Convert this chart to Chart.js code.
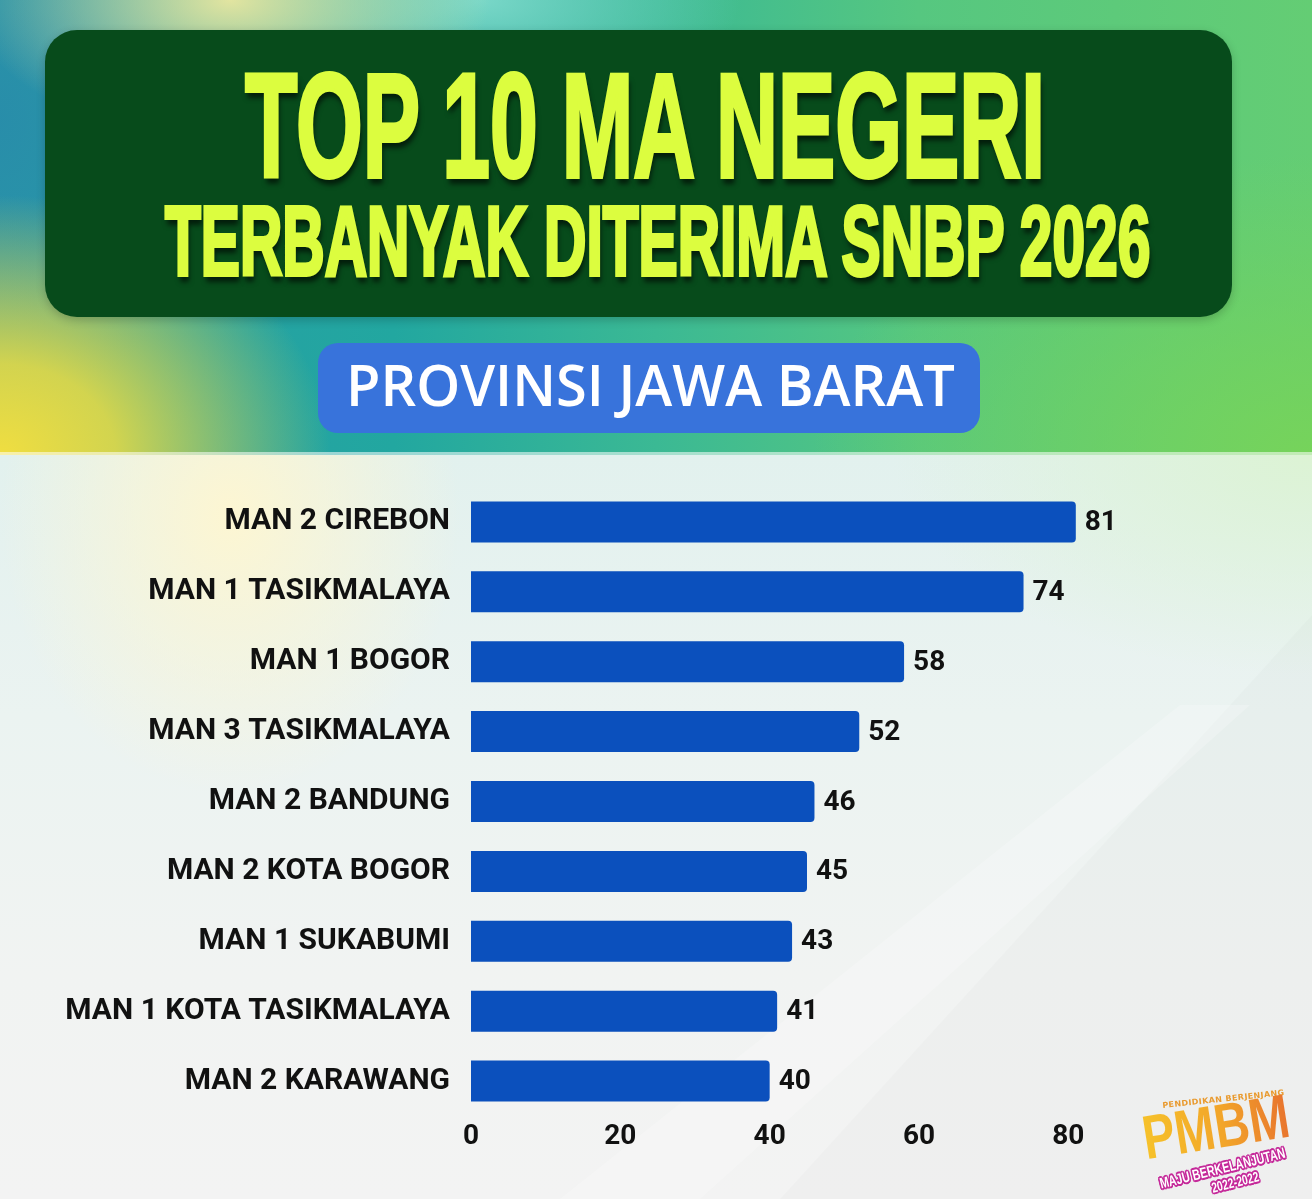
<!DOCTYPE html>
<html><head><meta charset="utf-8">
<script src="https://cdn.jsdelivr.net/npm/chart.js@4.4.1/dist/chart.umd.min.js"></script>
<style>
html,body{margin:0;padding:0;}
body{width:1312px;height:1199px;position:relative;overflow:hidden;font-family:Roboto,sans-serif;background:#f1f3f2;}
#hdr{position:absolute;left:0;top:0;width:1312px;height:455px;
 background:
  radial-gradient(ellipse 330px 260px at 0px 455px, rgba(240,222,64,1) 0%, rgba(240,222,64,0.85) 35%, rgba(240,222,64,0) 100%),
  radial-gradient(ellipse 260px 140px at 230px 0px, rgba(236,232,160,0.95) 0%, rgba(236,232,160,0) 100%),
  radial-gradient(ellipse 260px 120px at 480px 0px, rgba(130,220,205,0.9) 0%, rgba(130,220,205,0) 100%),
  radial-gradient(ellipse 220px 300px at 0px 120px, rgba(40,140,170,0.9) 0%, rgba(40,140,170,0) 100%),
  radial-gradient(ellipse 500px 300px at 1312px 455px, rgba(120,212,88,0.9) 0%, rgba(120,212,88,0) 100%),
  linear-gradient(90deg, #2a9aa6 0%, #22a7a0 30%, #3bb994 50%, #56c780 70%, #64cd74 100%);
}
#hdr:after{content:"";position:absolute;left:0;right:0;bottom:0;height:3px;background:rgba(255,255,255,0.55);}
#low{position:absolute;left:0;top:455px;width:1312px;height:744px;overflow:hidden;
 background:
  radial-gradient(ellipse 230px 280px at 230px 60px, rgba(253,246,210,1) 0%, rgba(253,246,210,0) 100%),
  radial-gradient(ellipse 420px 220px at 1312px 0px, rgba(220,243,212,1) 0%, rgba(220,243,212,0) 100%),
  linear-gradient(180deg, #e2f1ee 0%, #ebf3f1 35%, #f1f3f2 70%, #f3f3f3 100%);
}
.pl{position:absolute;left:0;top:0;width:1312px;height:744px;}
#p1{background:rgba(0,0,0,0.015);clip-path:polygon(780px 744px, 1312px 160px, 1312px 744px);}
#p2{background:rgba(255,255,255,0.22);clip-path:polygon(560px 744px, 1180px 250px, 1250px 250px, 700px 744px);}
#box{position:absolute;left:45px;top:30px;width:1187px;height:287px;border-radius:32px;background:#074b1b;box-shadow:0 3px 10px rgba(0,0,0,.2);}
.t{position:absolute;white-space:nowrap;color:#dcfd3f;font-family:"Liberation Sans",Arial,sans-serif;font-weight:bold;-webkit-text-stroke:4px #dcfd3f;text-shadow:3px 7px 7px rgba(0,0,0,.6);line-height:1;transform-origin:0 0;}
#pill{position:absolute;left:318px;top:343px;width:662px;height:90px;border-radius:20px;background:#3873db;}
#sub{position:absolute;white-space:nowrap;color:#fff;font-family:"Open Sans",sans-serif;font-weight:600;line-height:1;transform-origin:0 0;}
#wrap{position:absolute;left:0;top:0;width:1312px;height:1199px;}
#logo{position:absolute;left:1120px;top:1080px;width:192px;height:119px;}
#logo div{position:absolute;white-space:nowrap;line-height:1;transform-origin:0 0;}
#logo .a{left:42px;top:22px;font-family:"DejaVu Sans";font-weight:bold;font-size:8px;color:#e99a2e;transform:rotate(-6deg);letter-spacing:0.4px;}
#logo .b{left:18px;top:28px;font-family:"Liberation Sans";font-weight:bold;font-size:62px;transform:rotate(-9deg) scaleX(0.78);
 background:linear-gradient(90deg,#f6c22a,#f2a52a 55%,#e8742e);-webkit-background-clip:text;-webkit-text-fill-color:transparent;}
#logo .c,#logo .d{font-family:"Liberation Sans";font-weight:bold;color:#fff;
 text-shadow:2px 0 #c52a9a,-2px 0 #c52a9a,0 2px #c52a9a,0 -2px #c52a9a,1.5px 1.5px #c52a9a,-1.5px 1.5px #c52a9a,1.5px -1.5px #c52a9a,-1.5px -1.5px #c52a9a;}
#logo .c{left:38px;top:96px;font-size:15px;transform:rotate(-14deg) scaleX(0.72);}
#logo .d{left:90px;top:101px;font-size:14px;transform:rotate(-14deg) scaleX(0.72);}
</style></head>
<body>
<div id="hdr"></div>
<div id="low"><div class="pl" id="p1"></div><div class="pl" id="p2"></div></div>
<div id="box"></div>
<div class="t" id="t1">TOP 10 MA NEGERI</div>
<div class="t" id="t2">TERBANYAK DITERIMA SNBP 2026</div>
<div id="pill"></div>
<div id="sub">PROVINSI JAWA BARAT</div>
<div id="wrap"><canvas id="c" width="1312" height="1199"></canvas></div>
<div id="logo">
 <div class="a">PENDIDIKAN BERJENJANG</div>
 <div class="b">PMBM</div>
 <div class="c">MAJU BERKELANJUTAN</div>
 <div class="d">2022-2022</div>
</div>
<script>
const categories = ["MAN 2 CIREBON","MAN 1 TASIKMALAYA","MAN 1 BOGOR","MAN 3 TASIKMALAYA","MAN 2 BANDUNG","MAN 2 KOTA BOGOR","MAN 1 SUKABUMI","MAN 1 KOTA TASIKMALAYA","MAN 2 KARAWANG"];
const values = [81,74,58,52,46,45,43,41,40];
const xTicks = [0,20,40,60,80];

function fit(el, fs, left, right, baseline, ascOff){
  el.style.fontSize = fs + 'px';
  const w = el.offsetWidth;
  const s = (right-left)/w;
  el.style.left = left + 'px';
  el.style.top = (baseline - ascOff*fs) + 'px';
  el.style.transform = 'scaleX(' + s + ')';
}
fit(document.getElementById('t1'), 149, 245, 1045, 177, 0.8465);
fit(document.getElementById('t2'), 98, 165, 1150, 275, 0.8465);
fit(document.getElementById('sub'), 58, 346, 955, 407, 0.888);

const valueLabels = {
  id:'valueLabels',
  afterDatasetsDraw(chart){
    const ctx = chart.ctx;
    const meta = chart.getDatasetMeta(0);
    ctx.save();
    ctx.font = 'bold 28px Roboto';
    ctx.fillStyle = '#111';
    ctx.textAlign = 'left';
    ctx.textBaseline = 'middle';
    meta.data.forEach((bar,i)=>{
      ctx.fillText(String(values[i]), bar.x + 9, bar.y + 1);
    });
    ctx.restore();
  }
};

new Chart(document.getElementById('c').getContext('2d'), {
  type:'bar',
  data:{labels:categories, datasets:[{data:values, backgroundColor:'#0b50bd', borderRadius:4, borderSkipped:'start', barPercentage:0.88, categoryPercentage:0.667}]},
  options:{
    indexAxis:'y', responsive:false, animation:false, devicePixelRatio:1,
    layout:{padding:{top:487, right:169, bottom:43, left:0}},
    plugins:{legend:{display:false}, tooltip:{enabled:false}},
    scales:{
      x:{min:0, max:90, grid:{display:false, drawTicks:false}, border:{display:false},
         ticks:{padding:4, color:'#111', font:{family:'Roboto', weight:'bold', size:28}},
         afterBuildTicks:s=>{ s.ticks = xTicks.map(v=>({value:v})); },
         afterFit:s=>{ s.height = 40; }},
      y:{grid:{display:false, drawTicks:false}, border:{display:false},
         ticks:{padding:21, color:'#111', font:{family:'Roboto', weight:'bold', size:30}},
         afterFit:s=>{ s.width = 471; }}
    }
  },
  plugins:[valueLabels]
});
</script>
</body></html>
